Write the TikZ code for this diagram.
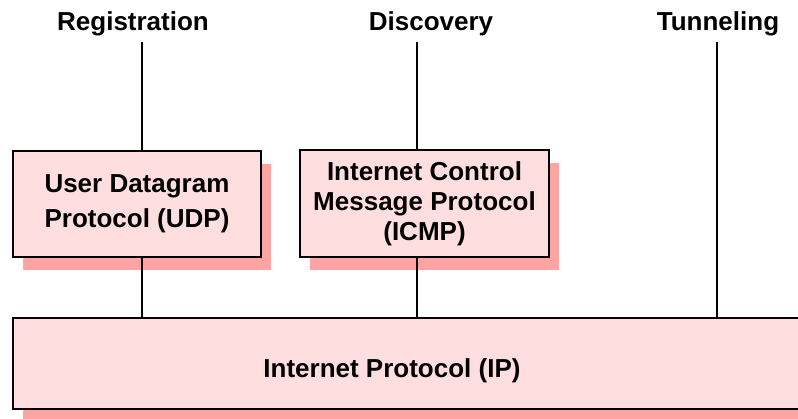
\documentclass[tikz,border=0pt]{standalone}
\usepackage{fontspec}
\setmainfont{Liberation Sans}
\usetikzlibrary{shadows}
\definecolor{boxpink}{HTML}{FFDEE0}
\definecolor{shadowpink}{HTML}{FFA3A3}
\tikzset{
  proto/.style={draw, line width=1.6pt, fill=boxpink, align=center, inner sep=0pt,
    font=\bfseries\fontsize{26}{30}\selectfont,
    drop shadow={fill=shadowpink, opacity=1, shadow xshift=10pt, shadow yshift=-13pt}},
  service/.style={font=\bfseries\fontsize{26}{30}\selectfont, inner sep=0pt, anchor=base}
}

\begin{document}
\begin{tikzpicture}[x=1pt, y=-1pt, line width=1.6pt]
      \useasboundingbox (0,0) rectangle (798,419);
      % protocol boxes
      \node[proto, minimum width=248pt, minimum height=106pt] (udp) at (137,204)
           {User Datagram\\[5pt]Protocol (UDP)};
      \node[proto, minimum width=249pt, minimum height=107pt] (icmp) at (424.5,203.5)
           {Internet Control\\Message Protocol\\(ICMP)};
      \node[proto, minimum width=786pt, minimum height=91pt] (ip) at (406,363.5) {};
      \node[font=\bfseries\fontsize{26}{30}\selectfont, inner sep=0pt] (iptext)
           at (392,371) {Internet Protocol (IP)};
      % services on top
      \node[service] (reg) at (133,31) {Registration};
      \node[service] (disc) at (431,31) {Discovery};
      \node[service] (tun) at (718,31) {Tunneling};
      \coordinate (regfoot) at (142,42);
      \coordinate (discfoot) at (417,42);
      \coordinate (tunfoot) at (717,42);
      \draw (regfoot) -- (regfoot |- udp.north);
      \draw (regfoot |- udp.south) -- (regfoot |- ip.north);
      \draw (discfoot) -- (discfoot |- icmp.north);
      \draw (discfoot |- icmp.south) -- (discfoot |- ip.north);
      \draw (tunfoot) -- (tunfoot |- ip.north);
    \end{tikzpicture}
\end{document}
